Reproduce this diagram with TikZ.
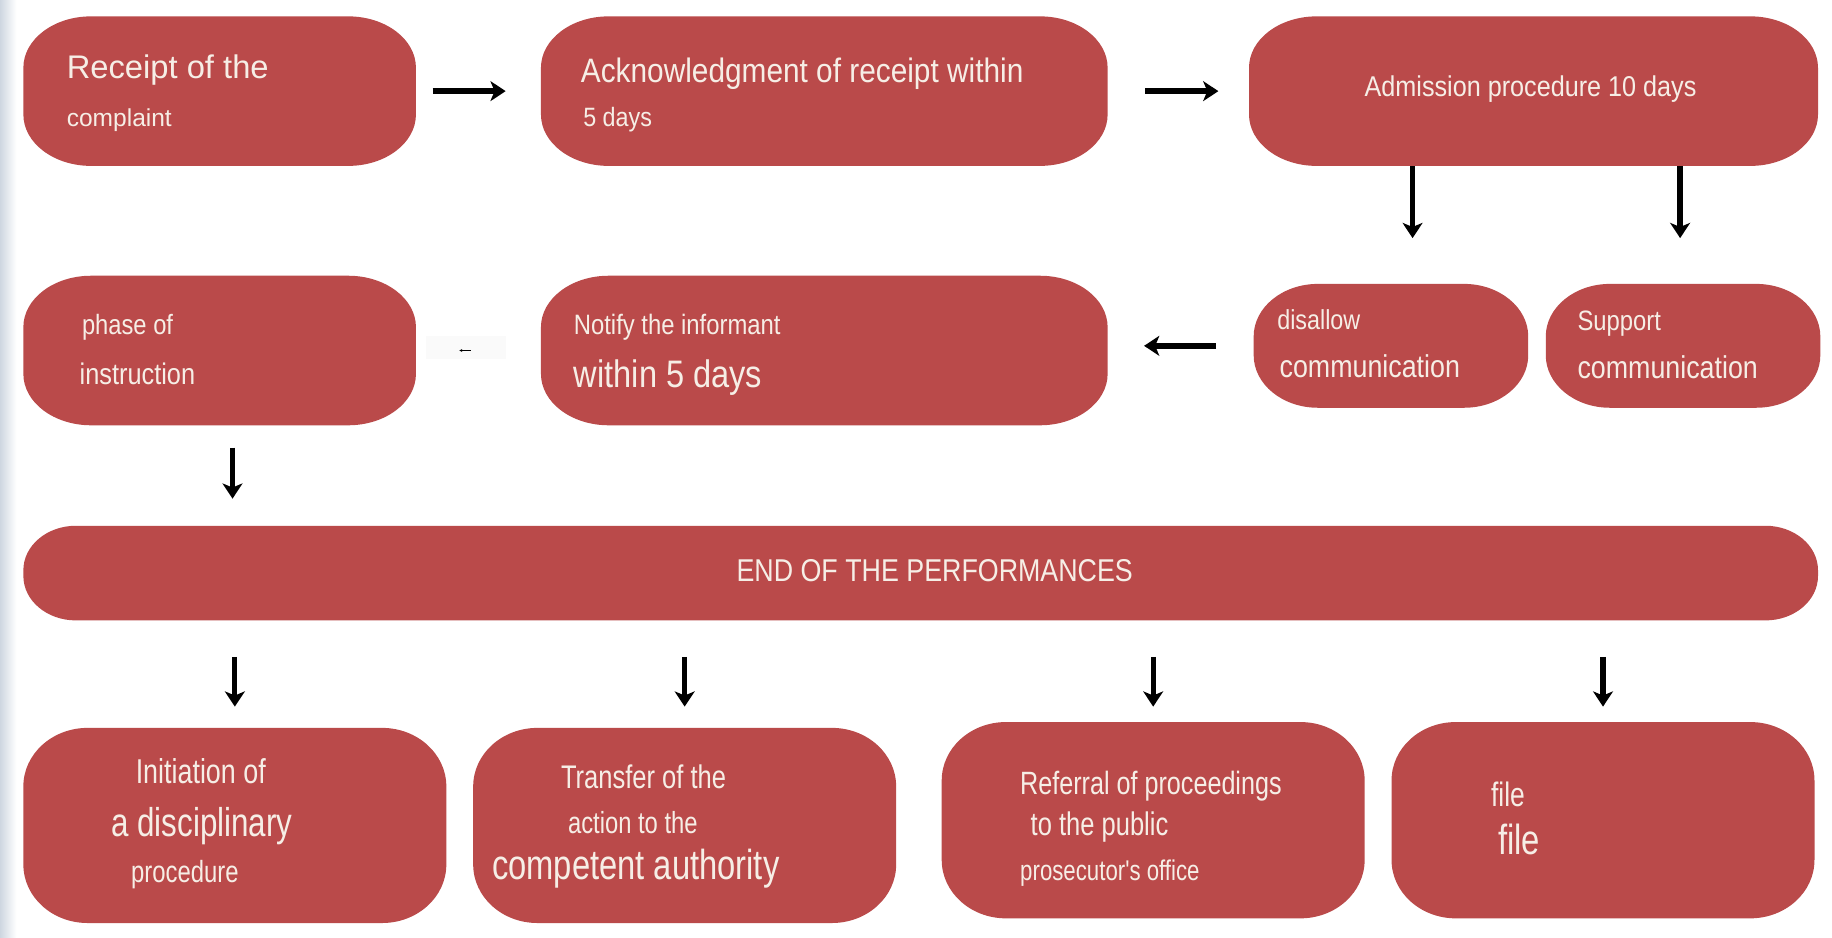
\documentclass[tikz,border=0pt]{standalone}
\usepackage{fontspec}
\setmainfont{Liberation Sans}
\newfontfamily\cfa[FakeStretch=0.88]{Liberation Sans}
\newfontfamily\cfb[FakeStretch=0.85]{Liberation Sans}
\newfontfamily\cfc[FakeStretch=0.78]{Liberation Sans}
\usetikzlibrary{arrows.meta}
\definecolor{boxred}{RGB}{186,74,74}
\definecolor{txtc}{RGB}{246,238,230}
\definecolor{edgec}{RGB}{206,214,224}
\newcommand\ebox[7]{%
  \fill[boxred] ({#2+#6},{-#3}) -- ({#4-#6},{-#3})
    arc[start angle=90,end angle=0,x radius=#6pt,y radius=#7pt]
    -- ({#4},{-#5+#7})
    arc[start angle=0,end angle=-90,x radius=#6pt,y radius=#7pt]
    -- ({#2+#6},{-#5})
    arc[start angle=270,end angle=180,x radius=#6pt,y radius=#7pt]
    -- ({#2},{-#3-#7})
    arc[start angle=180,end angle=90,x radius=#6pt,y radius=#7pt]
    -- cycle;
  \node[inner sep=0pt,minimum width={(#4-#2)*1pt},minimum height={(#5-#3)*1pt}] (#1) at ({(#2+#4)/2},{-(#3+#5)/2}) {};
}
\tikzset{
  txt/.style={text=txtc,inner sep=0pt,anchor=base west},
  txtc/.style={text=txtc,inner sep=0pt,anchor=base},
  arrT/.style={line width=5pt,-{Stealth[length=13pt,width=17pt,inset=3.5pt]}},
  arrB/.style={line width=4.4pt,-{Stealth[length=13pt,width=17pt,inset=3.5pt]}},
  arrS/.style={line width=0.5pt,-{Stealth[length=2.5pt,width=2.5pt]}}
}
\begin{document}
\begin{tikzpicture}[x=1pt,y=1pt]
\useasboundingbox (0,0) rectangle (1568,-802);
\fill[white] (0,0) rectangle (1568,-802);
\shade[left color=edgec,right color=white] (0,0) rectangle (14,-802);

% boxes
\ebox{b1}{20}{14}{356}{142}{58}{44}
\ebox{b2}{463}{14}{948}{142}{58}{44}
\ebox{b3}{1069}{14}{1556}{142}{58}{44}
\ebox{dis}{1073}{243}{1308}{349}{55}{45}
\ebox{sup}{1323}{243}{1558}{349}{55}{45}
\ebox{ntf}{463}{236}{948}{364}{58}{44}
\ebox{ph}{20}{236}{356}{364}{58}{44}
\ebox{end}{20}{450}{1556}{531}{45}{38}
\ebox{c1}{20}{623}{382}{790}{55}{50}
\ebox{c2}{405}{623}{767}{790}{55}{50}
\ebox{c3}{806}{618}{1168}{786}{55}{50}
\ebox{c4}{1191}{618}{1553}{786}{55}{50}

% texts
\node[txt,font=\fontsize{28}{30}\selectfont] (t1a) at (57,-67) {Receipt of the};
\node[txt,font=\fontsize{21}{24}\selectfont] (t1b) at (57,-108) {complaint};
\node[txt,font=\cfa\fontsize{29}{32}\selectfont] (t2a) at (497,-71) {Acknowledgment of receipt within};
\node[txt,font=\cfa\fontsize{22.7}{25}\selectfont] (t2b) at (499,-108) {5 days};
\node[txtc,font=\cfa\fontsize{24.5}{27}\selectfont] (t3) at (1310,-83) {Admission procedure 10 days};
\node[txt,font=\cfb\fontsize{23.5}{26}\selectfont] (t4a) at (1093,-282) {disallow};
\node[txt,font=\cfb\fontsize{27}{30}\selectfont] (t4b) at (1095,-323) {communication};
\node[txt,font=\cfb\fontsize{24}{26}\selectfont] (t5a) at (1350,-283) {Support};
\node[txt,font=\cfb\fontsize{27}{30}\selectfont] (t5b) at (1350,-324) {communication};
\node[txt,font=\cfb\fontsize{24}{26}\selectfont] (t6a) at (491,-286) {Notify the informant};
\node[txt,font=\cfb\fontsize{32.8}{35}\selectfont] (t6b) at (491,-332) {within 5 days};
\node[txt,font=\cfb\fontsize{23.9}{26}\selectfont] (t7a) at (70,-286) {phase of};
\node[txt,font=\cfb\fontsize{25.5}{28}\selectfont] (t7b) at (68,-329) {instruction};
\node[txtc,font=\cfb\fontsize{27}{30}\selectfont] (t8) at (800,-498) {END OF THE PERFORMANCES};
\node[txt,font=\cfc\fontsize{29.5}{32}\selectfont] (t9a) at (116,-671) {Initiation of};
\node[txt,font=\cfc\fontsize{34.4}{37}\selectfont] (t9b) at (95,-716) {a disciplinary};
\node[txt,font=\cfc\fontsize{26.2}{28}\selectfont] (t9c) at (112,-755) {procedure};
\node[txt,font=\cfc\fontsize{28}{30}\selectfont] (t10a) at (480,-675) {Transfer of the};
\node[txt,font=\cfc\fontsize{26.1}{28}\selectfont] (t10b) at (486,-713) {action to the};
\node[txt,font=\cfc\fontsize{35.9}{38}\selectfont] (t10c) at (421,-753) {competent authority};
\node[txt,font=\cfc\fontsize{27.6}{30}\selectfont] (t11a) at (873,-680) {Referral of proceedings};
\node[txt,font=\cfc\fontsize{28}{30}\selectfont] (t11b) at (882,-715) {to the public};
\node[txt,font=\cfc\fontsize{24.4}{27}\selectfont] (t11c) at (873,-754) {prosecutor's office};
\node[txt,font=\cfc\fontsize{29}{31}\selectfont] (t12a) at (1276,-690) {file};
\node[txt,font=\cfc\fontsize{36}{38}\selectfont] (t12b) at (1282,-731) {file};

% connectors
\draw[arrT,shorten <=14pt,shorten >=30pt] (b1.east) -- (b2.west);
\draw[arrT,shorten <=32pt,shorten >=26pt] (b2.east) -- (b3.west);
\draw[arrT,shorten >=39pt] ([xshift=18.5pt]dis.north |- b3.south) -- ([xshift=18.5pt]dis.north);
\draw[arrT,shorten >=39pt] ([xshift=-2.5pt]sup.north |- b3.south) -- ([xshift=-2.5pt]sup.north);
\draw[arrT,shorten <=32pt,shorten >=31pt] (dis.west) -- (dis.west -| ntf.east);
\fill[black!2] (365,-288) rectangle (433,-307);
\draw[arrS,shorten <=60pt,shorten >=37pt] (ntf.west) -- (ph.east);
\draw[arrT,shorten <=19pt,shorten >=23pt] ([xshift=11pt]ph.south) -- ([xshift=11pt]ph.south |- end.north);
\draw[arrB,shorten <=31pt,shorten >=18pt] (end.south -| c1.north) -- (c1.north);
\draw[arrB,shorten <=31pt,shorten >=18pt] (end.south -| c2.north) -- (c2.north);
\draw[arrB,shorten <=31pt,shorten >=13pt] (end.south -| c3.north) -- (c3.north);
\draw[arrB,shorten <=31pt,shorten >=13pt] (end.south -| c4.north) -- (c4.north);
\end{tikzpicture}
\end{document}
